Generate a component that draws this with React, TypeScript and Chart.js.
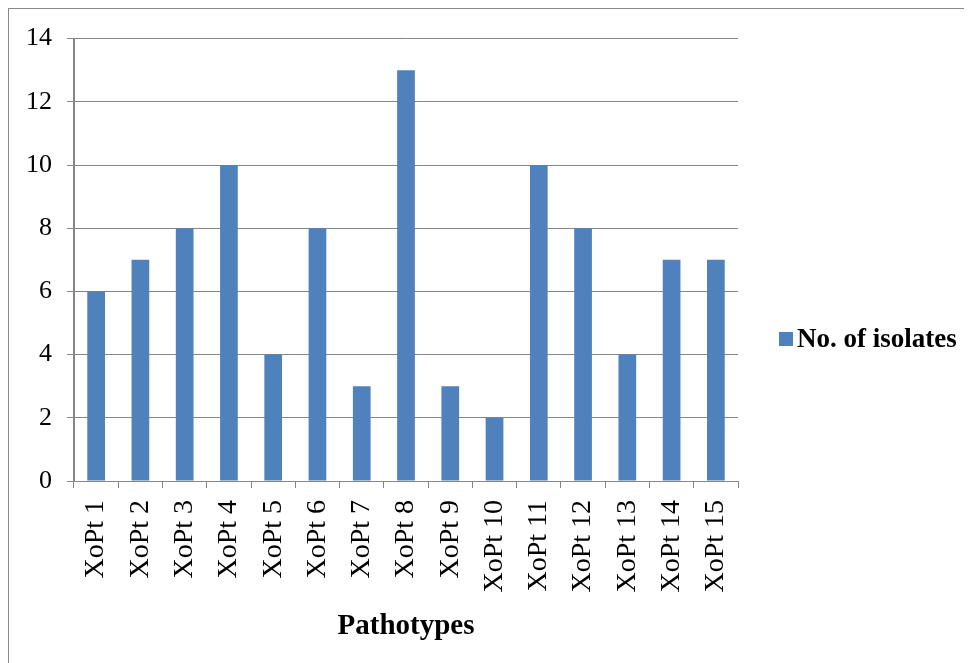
import React, { useEffect, useRef } from "react";
import { Chart, registerables } from "chart.js";

Chart.register(...registerables);

const categories = [
  "XoPt 1", "XoPt 2", "XoPt 3", "XoPt 4", "XoPt 5", "XoPt 6", "XoPt 7", "XoPt 8",
  "XoPt 9", "XoPt 10", "XoPt 11", "XoPt 12", "XoPt 13", "XoPt 14", "XoPt 15",
];
const isolates = [6, 7, 8, 10, 4, 8, 3, 13, 3, 2, 10, 8, 4, 7, 7];
const seriesLabel = "No. of isolates";
const xTitle = "Pathotypes";
const yMin = 0;
const yMax = 14;
const yStep = 2;

const FONT = '"Liberation Serif", "Times New Roman", serif';
const GRID = "#868686";
const BAR = "#4F81BD";

const decorPlugin = {
  id: "decor",
  afterDraw(chart: any) {
    const ctx = chart.ctx;
    ctx.save();
    // outer frame (left and top)
    ctx.strokeStyle = "#8a8a8a";
    ctx.lineWidth = 2;
    ctx.beginPath();
    ctx.moveTo(0, chart.height);
    ctx.lineTo(0, 0);
    ctx.lineTo(chart.width, 0);
    ctx.stroke();
    // legend
    const ds = chart.data.datasets[0];
    const bx = chart.chartArea.right + 41;
    const cy = 331;
    ctx.fillStyle = ds.backgroundColor;
    ctx.fillRect(bx, cy - 7, 14, 14);
    ctx.fillStyle = "#000";
    ctx.font = `bold 27px ${FONT}`;
    ctx.textBaseline = "middle";
    ctx.textAlign = "left";
    ctx.fillText(ds.label, bx + 18, cy + 1);
    ctx.restore();
  },
};

export default function App() {
  const ref = useRef<HTMLCanvasElement>(null);
  useEffect(() => {
    if (!ref.current) return;
    const chart = new Chart(ref.current, {
      type: "bar",
      data: {
        labels: categories,
        datasets: [
          {
            label: seriesLabel,
            data: isolates,
            backgroundColor: BAR,
            barPercentage: 0.4,
            categoryPercentage: 1,
          },
        ],
      },
      options: {
        animation: false,
        responsive: false,
        maintainAspectRatio: false,
        layout: { padding: { left: 0, top: 29, right: 226, bottom: 0 } },
        plugins: {
          legend: { display: false },
          tooltip: { enabled: false },
        },
        scales: {
          x: {
            afterFit: (s: any) => {
              s.height = 182;
            },
            grid: {
              display: true,
              drawOnChartArea: false,
              drawTicks: true,
              tickLength: 7,
              color: GRID,
              offset: true,
            },
            border: { display: true, color: GRID, width: 1 },
            ticks: {
              color: "#000",
              font: { family: FONT, size: 28 },
              maxRotation: 90,
              minRotation: 90,
              autoSkip: false,
              padding: 12,
            },
            title: {
              display: true,
              text: xTitle,
              color: "#000",
              font: { family: FONT, size: 29, weight: "bold" },
              padding: { top: 19, bottom: 19 },
            },
          },
          y: {
            min: yMin,
            max: yMax,
            afterFit: (s: any) => {
              s.width = 66;
            },
            grid: {
              color: GRID,
              lineWidth: 1,
              drawTicks: true,
              tickLength: 7,
            },
            border: { display: true, color: GRID, width: 2 },
            ticks: {
              stepSize: yStep,
              color: "#000",
              font: { family: FONT, size: 26 },
              padding: 15,
            },
          },
        },
      },
      plugins: [decorPlugin],
    });
    return () => chart.destroy();
  }, []);
  return (
    <canvas
      ref={ref}
      width={956}
      height={655}
      style={{ display: "block", width: 956, height: 655 }}
    />
  );
}
